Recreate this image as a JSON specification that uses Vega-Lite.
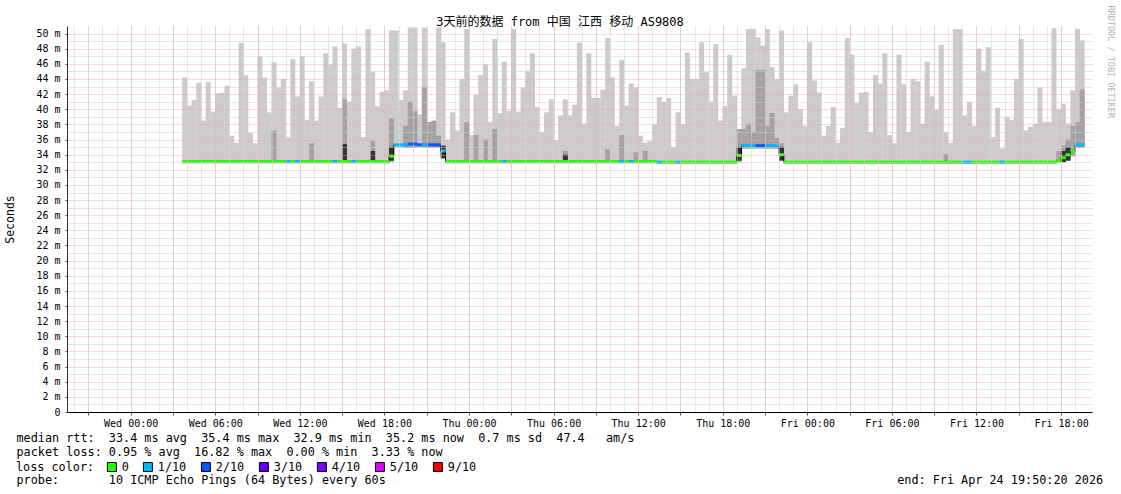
{
  "$schema": "https://vega.github.io/schema/vega-lite/v6.json",
  "width": 1025,
  "height": 386,
  "autosize": "none",
  "padding": {"left": 67, "top": 26, "right": 29, "bottom": 82},
  "background": "#ffffff",
  "title": {"text": "3天前的数据 from 中国 江西 移动 AS9808", "font": "DejaVu Sans Mono, Noto Sans CJK SC", "fontSize": 12, "fontWeight": "normal", "color": "#000000", "anchor": "middle", "dx": -19.5, "dy": 34, "offset": 1, "baseline": "alphabetic"},
  "config": {"view": {"stroke": null}, "font": "DejaVu Sans Mono"},
  "datasets": {
    "main": [
      {"t":"2026-04-22T03:50Z","lo":32.8,"hi":44.2,"med":33.1,"loss":"0"},
      {"t":"2026-04-22T04:10Z","lo":32.8,"hi":40.5,"med":33.1,"loss":"0"},
      {"t":"2026-04-22T04:30Z","lo":32.8,"hi":41.2,"med":33.1,"loss":"0"},
      {"t":"2026-04-22T04:50Z","lo":32.8,"hi":43.5,"med":33.1,"loss":"0"},
      {"t":"2026-04-22T05:10Z","lo":32.8,"hi":38.5,"med":33.1,"loss":"0"},
      {"t":"2026-04-22T05:30Z","lo":32.8,"hi":43.6,"med":33.1,"loss":"0"},
      {"t":"2026-04-22T05:50Z","lo":32.8,"hi":39.7,"med":33.1,"loss":"0"},
      {"t":"2026-04-22T06:10Z","lo":32.8,"hi":42.1,"med":33.1,"loss":"0"},
      {"t":"2026-04-22T06:30Z","lo":32.8,"hi":42.2,"med":33.1,"loss":"0"},
      {"t":"2026-04-22T06:50Z","lo":32.8,"hi":43.1,"med":33.1,"loss":"0"},
      {"t":"2026-04-22T07:10Z","lo":32.8,"hi":36.5,"med":33.1,"loss":"0"},
      {"t":"2026-04-22T07:30Z","lo":32.8,"hi":35.6,"med":33.1,"loss":"0"},
      {"t":"2026-04-22T07:50Z","lo":32.8,"hi":48.8,"med":33.1,"loss":"0"},
      {"t":"2026-04-22T08:10Z","lo":32.8,"hi":44.5,"med":33.1,"loss":"0"},
      {"t":"2026-04-22T08:30Z","lo":32.8,"hi":36.9,"med":33.1,"loss":"0"},
      {"t":"2026-04-22T08:50Z","lo":32.8,"hi":35.5,"med":33.1,"loss":"0"},
      {"t":"2026-04-22T09:10Z","lo":32.8,"hi":47.0,"med":33.1,"loss":"0"},
      {"t":"2026-04-22T09:30Z","lo":32.8,"hi":44.2,"med":33.1,"loss":"0"},
      {"t":"2026-04-22T09:50Z","lo":32.8,"hi":39.6,"med":33.1,"loss":"0"},
      {"t":"2026-04-22T10:10Z","lo":32.8,"hi":46.2,"med":33.1,"loss":"0"},
      {"t":"2026-04-22T10:30Z","lo":32.8,"hi":42.9,"med":33.1,"loss":"0"},
      {"t":"2026-04-22T10:50Z","lo":32.8,"hi":44.0,"med":33.1,"loss":"0"},
      {"t":"2026-04-22T11:10Z","lo":32.8,"hi":36.3,"med":33.1,"loss":"1/10"},
      {"t":"2026-04-22T11:30Z","lo":32.8,"hi":46.6,"med":33.1,"loss":"0"},
      {"t":"2026-04-22T11:50Z","lo":32.8,"hi":41.7,"med":33.1,"loss":"1/10"},
      {"t":"2026-04-22T12:10Z","lo":32.8,"hi":47.0,"med":33.1,"loss":"0"},
      {"t":"2026-04-22T12:30Z","lo":32.8,"hi":38.6,"med":33.1,"loss":"0"},
      {"t":"2026-04-22T12:50Z","lo":32.8,"hi":43.7,"med":33.1,"loss":"0"},
      {"t":"2026-04-22T13:10Z","lo":32.8,"hi":38.5,"med":33.1,"loss":"0"},
      {"t":"2026-04-22T13:30Z","lo":32.8,"hi":41.7,"med":33.1,"loss":"0"},
      {"t":"2026-04-22T13:50Z","lo":32.8,"hi":47.4,"med":33.1,"loss":"0"},
      {"t":"2026-04-22T14:10Z","lo":32.8,"hi":45.9,"med":33.1,"loss":"0"},
      {"t":"2026-04-22T14:30Z","lo":32.8,"hi":48.3,"med":33.1,"loss":"1/10"},
      {"t":"2026-04-22T14:50Z","lo":32.8,"hi":40.2,"med":33.1,"loss":"0"},
      {"t":"2026-04-22T15:10Z","lo":32.8,"hi":48.7,"med":33.1,"loss":"0"},
      {"t":"2026-04-22T15:30Z","lo":32.8,"hi":41.0,"med":33.1,"loss":"0"},
      {"t":"2026-04-22T15:50Z","lo":32.8,"hi":48.0,"med":33.1,"loss":"1/10"},
      {"t":"2026-04-22T16:10Z","lo":32.8,"hi":48.3,"med":33.1,"loss":"0"},
      {"t":"2026-04-22T16:30Z","lo":32.8,"hi":36.3,"med":33.1,"loss":"0"},
      {"t":"2026-04-22T16:50Z","lo":32.8,"hi":50.6,"med":33.1,"loss":"0"},
      {"t":"2026-04-22T17:10Z","lo":32.8,"hi":45.0,"med":33.1,"loss":"0"},
      {"t":"2026-04-22T17:30Z","lo":32.8,"hi":40.4,"med":33.1,"loss":"0"},
      {"t":"2026-04-22T17:50Z","lo":32.8,"hi":42.3,"med":33.1,"loss":"0"},
      {"t":"2026-04-22T18:10Z","lo":32.8,"hi":42.5,"med":33.1,"loss":"0"},
      {"t":"2026-04-22T18:30Z","lo":32.9,"hi":50.4,"med":33.8,"loss":"0"},
      {"t":"2026-04-22T18:50Z","lo":34.9,"hi":50.4,"med":35.3,"loss":"1/10"},
      {"t":"2026-04-22T19:10Z","lo":34.9,"hi":41.2,"med":35.3,"loss":"1/10"},
      {"t":"2026-04-22T19:30Z","lo":34.9,"hi":42.5,"med":35.3,"loss":"1/10"},
      {"t":"2026-04-22T19:50Z","lo":34.9,"hi":50.8,"med":35.4,"loss":"2/10"},
      {"t":"2026-04-22T20:10Z","lo":34.9,"hi":50.8,"med":35.4,"loss":"2/10"},
      {"t":"2026-04-22T20:30Z","lo":34.9,"hi":39.3,"med":35.3,"loss":"2/10"},
      {"t":"2026-04-22T20:50Z","lo":34.9,"hi":50.8,"med":35.3,"loss":"1/10"},
      {"t":"2026-04-22T21:10Z","lo":34.9,"hi":38.3,"med":35.3,"loss":"2/10"},
      {"t":"2026-04-22T21:30Z","lo":34.9,"hi":38.3,"med":35.3,"loss":"2/10"},
      {"t":"2026-04-22T21:50Z","lo":34.9,"hi":50.8,"med":35.3,"loss":"2/10"},
      {"t":"2026-04-22T22:10Z","lo":33.5,"hi":48.85,"med":34.5,"loss":"1/10"},
      {"t":"2026-04-22T22:30Z","lo":32.8,"hi":36.0,"med":33.1,"loss":"0"},
      {"t":"2026-04-22T22:50Z","lo":32.8,"hi":39.6,"med":33.1,"loss":"0"},
      {"t":"2026-04-22T23:10Z","lo":32.8,"hi":37.2,"med":33.1,"loss":"0"},
      {"t":"2026-04-22T23:30Z","lo":32.8,"hi":44.0,"med":33.1,"loss":"0"},
      {"t":"2026-04-22T23:50Z","lo":32.8,"hi":50.6,"med":33.1,"loss":"0"},
      {"t":"2026-04-23T00:10Z","lo":32.8,"hi":36.6,"med":33.1,"loss":"0"},
      {"t":"2026-04-23T00:30Z","lo":32.8,"hi":41.9,"med":33.1,"loss":"0"},
      {"t":"2026-04-23T00:50Z","lo":32.8,"hi":44.5,"med":33.1,"loss":"0"},
      {"t":"2026-04-23T01:10Z","lo":32.8,"hi":45.9,"med":33.1,"loss":"0"},
      {"t":"2026-04-23T01:30Z","lo":32.8,"hi":38.3,"med":33.1,"loss":"0"},
      {"t":"2026-04-23T01:50Z","lo":32.8,"hi":49.3,"med":33.1,"loss":"0"},
      {"t":"2026-04-23T02:10Z","lo":32.8,"hi":39.5,"med":33.1,"loss":"0"},
      {"t":"2026-04-23T02:30Z","lo":32.8,"hi":46.3,"med":33.1,"loss":"1/10"},
      {"t":"2026-04-23T02:50Z","lo":32.8,"hi":39.8,"med":33.1,"loss":"0"},
      {"t":"2026-04-23T03:10Z","lo":32.8,"hi":50.6,"med":33.1,"loss":"0"},
      {"t":"2026-04-23T03:30Z","lo":32.8,"hi":39.7,"med":33.1,"loss":"0"},
      {"t":"2026-04-23T03:50Z","lo":32.8,"hi":42.9,"med":33.1,"loss":"0"},
      {"t":"2026-04-23T04:10Z","lo":32.8,"hi":45.1,"med":33.1,"loss":"0"},
      {"t":"2026-04-23T04:30Z","lo":32.8,"hi":47.4,"med":33.1,"loss":"0"},
      {"t":"2026-04-23T04:50Z","lo":32.8,"hi":40.3,"med":33.1,"loss":"0"},
      {"t":"2026-04-23T05:10Z","lo":32.8,"hi":37.0,"med":33.1,"loss":"0"},
      {"t":"2026-04-23T05:30Z","lo":32.8,"hi":39.6,"med":33.1,"loss":"0"},
      {"t":"2026-04-23T05:50Z","lo":32.8,"hi":41.3,"med":33.1,"loss":"0"},
      {"t":"2026-04-23T06:10Z","lo":32.8,"hi":35.9,"med":33.1,"loss":"0"},
      {"t":"2026-04-23T06:30Z","lo":32.8,"hi":39.2,"med":33.1,"loss":"0"},
      {"t":"2026-04-23T06:50Z","lo":32.8,"hi":41.3,"med":33.1,"loss":"0"},
      {"t":"2026-04-23T07:10Z","lo":32.8,"hi":39.2,"med":33.1,"loss":"0"},
      {"t":"2026-04-23T07:30Z","lo":32.8,"hi":40.6,"med":33.1,"loss":"0"},
      {"t":"2026-04-23T07:50Z","lo":32.8,"hi":48.8,"med":33.1,"loss":"0"},
      {"t":"2026-04-23T08:10Z","lo":32.8,"hi":38.1,"med":33.1,"loss":"0"},
      {"t":"2026-04-23T08:30Z","lo":32.8,"hi":47.4,"med":33.1,"loss":"0"},
      {"t":"2026-04-23T08:50Z","lo":32.8,"hi":41.5,"med":33.1,"loss":"0"},
      {"t":"2026-04-23T09:10Z","lo":32.8,"hi":41.5,"med":33.1,"loss":"0"},
      {"t":"2026-04-23T09:30Z","lo":32.8,"hi":42.6,"med":33.1,"loss":"0"},
      {"t":"2026-04-23T09:50Z","lo":32.8,"hi":49.4,"med":33.1,"loss":"0"},
      {"t":"2026-04-23T10:10Z","lo":32.8,"hi":44.2,"med":33.1,"loss":"0"},
      {"t":"2026-04-23T10:30Z","lo":32.8,"hi":37.8,"med":33.1,"loss":"0"},
      {"t":"2026-04-23T10:50Z","lo":32.8,"hi":46.5,"med":33.1,"loss":"1/10"},
      {"t":"2026-04-23T11:10Z","lo":32.8,"hi":40.5,"med":33.1,"loss":"0"},
      {"t":"2026-04-23T11:30Z","lo":32.8,"hi":43.4,"med":33.1,"loss":"1/10"},
      {"t":"2026-04-23T11:50Z","lo":32.8,"hi":42.9,"med":33.1,"loss":"0"},
      {"t":"2026-04-23T12:10Z","lo":32.8,"hi":36.5,"med":33.1,"loss":"0"},
      {"t":"2026-04-23T12:30Z","lo":32.8,"hi":35.6,"med":33.1,"loss":"0"},
      {"t":"2026-04-23T12:50Z","lo":32.8,"hi":35.8,"med":33.1,"loss":"0"},
      {"t":"2026-04-23T13:10Z","lo":32.8,"hi":38.0,"med":33.1,"loss":"0"},
      {"t":"2026-04-23T13:30Z","lo":32.8,"hi":41.6,"med":33.0,"loss":"1/10"},
      {"t":"2026-04-23T13:50Z","lo":32.8,"hi":41.0,"med":33.0,"loss":"0"},
      {"t":"2026-04-23T14:10Z","lo":32.8,"hi":41.5,"med":33.0,"loss":"0"},
      {"t":"2026-04-23T14:30Z","lo":32.8,"hi":35.0,"med":33.0,"loss":"0"},
      {"t":"2026-04-23T14:50Z","lo":32.8,"hi":39.6,"med":33.0,"loss":"1/10"},
      {"t":"2026-04-23T15:10Z","lo":32.8,"hi":38.0,"med":33.0,"loss":"0"},
      {"t":"2026-04-23T15:30Z","lo":32.8,"hi":47.5,"med":33.0,"loss":"0"},
      {"t":"2026-04-23T15:50Z","lo":32.8,"hi":44.0,"med":33.0,"loss":"0"},
      {"t":"2026-04-23T16:10Z","lo":32.8,"hi":44.0,"med":33.0,"loss":"0"},
      {"t":"2026-04-23T16:30Z","lo":32.8,"hi":48.85,"med":33.0,"loss":"0"},
      {"t":"2026-04-23T16:50Z","lo":32.8,"hi":44.9,"med":33.0,"loss":"0"},
      {"t":"2026-04-23T17:10Z","lo":32.8,"hi":41.0,"med":33.0,"loss":"0"},
      {"t":"2026-04-23T17:30Z","lo":32.8,"hi":48.6,"med":33.0,"loss":"0"},
      {"t":"2026-04-23T17:50Z","lo":32.8,"hi":38.5,"med":33.0,"loss":"0"},
      {"t":"2026-04-23T18:10Z","lo":32.8,"hi":40.4,"med":33.0,"loss":"0"},
      {"t":"2026-04-23T18:30Z","lo":32.8,"hi":47.2,"med":33.0,"loss":"0"},
      {"t":"2026-04-23T18:50Z","lo":32.8,"hi":41.8,"med":33.0,"loss":"0"},
      {"t":"2026-04-23T19:10Z","lo":32.9,"hi":36.8,"med":33.9,"loss":"0"},
      {"t":"2026-04-23T19:30Z","lo":34.8,"hi":45.4,"med":35.2,"loss":"1/10"},
      {"t":"2026-04-23T19:50Z","lo":34.8,"hi":50.6,"med":35.2,"loss":"1/10"},
      {"t":"2026-04-23T20:10Z","lo":34.8,"hi":50.6,"med":35.2,"loss":"1/10"},
      {"t":"2026-04-23T20:30Z","lo":34.8,"hi":49.5,"med":35.2,"loss":"2/10"},
      {"t":"2026-04-23T20:50Z","lo":34.8,"hi":48.4,"med":35.2,"loss":"2/10"},
      {"t":"2026-04-23T21:10Z","lo":34.8,"hi":50.6,"med":35.2,"loss":"1/10"},
      {"t":"2026-04-23T21:30Z","lo":34.8,"hi":45.6,"med":35.2,"loss":"1/10"},
      {"t":"2026-04-23T21:50Z","lo":34.8,"hi":44.0,"med":35.1,"loss":"1/10"},
      {"t":"2026-04-23T22:10Z","lo":33.3,"hi":50.4,"med":34.0,"loss":"0"},
      {"t":"2026-04-23T22:30Z","lo":32.8,"hi":39.6,"med":33.0,"loss":"0"},
      {"t":"2026-04-23T22:50Z","lo":32.8,"hi":41.8,"med":33.0,"loss":"0"},
      {"t":"2026-04-23T23:10Z","lo":32.8,"hi":43.3,"med":33.0,"loss":"0"},
      {"t":"2026-04-23T23:30Z","lo":32.8,"hi":40.0,"med":33.0,"loss":"0"},
      {"t":"2026-04-23T23:50Z","lo":32.8,"hi":37.8,"med":33.0,"loss":"0"},
      {"t":"2026-04-24T00:10Z","lo":32.8,"hi":48.85,"med":33.0,"loss":"0"},
      {"t":"2026-04-24T00:30Z","lo":32.8,"hi":43.8,"med":33.0,"loss":"0"},
      {"t":"2026-04-24T00:50Z","lo":32.8,"hi":42.2,"med":33.0,"loss":"0"},
      {"t":"2026-04-24T01:10Z","lo":32.8,"hi":36.5,"med":33.0,"loss":"0"},
      {"t":"2026-04-24T01:30Z","lo":32.8,"hi":37.8,"med":33.0,"loss":"0"},
      {"t":"2026-04-24T01:50Z","lo":32.8,"hi":40.3,"med":33.0,"loss":"0"},
      {"t":"2026-04-24T02:10Z","lo":32.8,"hi":35.6,"med":33.0,"loss":"0"},
      {"t":"2026-04-24T02:30Z","lo":32.8,"hi":37.5,"med":33.0,"loss":"0"},
      {"t":"2026-04-24T02:50Z","lo":32.8,"hi":49.4,"med":33.0,"loss":"0"},
      {"t":"2026-04-24T03:10Z","lo":32.8,"hi":47.2,"med":33.0,"loss":"0"},
      {"t":"2026-04-24T03:30Z","lo":32.8,"hi":40.9,"med":33.0,"loss":"0"},
      {"t":"2026-04-24T03:50Z","lo":32.8,"hi":42.2,"med":33.0,"loss":"0"},
      {"t":"2026-04-24T04:10Z","lo":32.8,"hi":42.3,"med":33.0,"loss":"0"},
      {"t":"2026-04-24T04:30Z","lo":32.8,"hi":37.0,"med":33.0,"loss":"0"},
      {"t":"2026-04-24T04:50Z","lo":32.8,"hi":44.5,"med":33.0,"loss":"0"},
      {"t":"2026-04-24T05:10Z","lo":32.8,"hi":43.4,"med":33.0,"loss":"0"},
      {"t":"2026-04-24T05:30Z","lo":32.8,"hi":47.4,"med":33.0,"loss":"0"},
      {"t":"2026-04-24T05:50Z","lo":32.8,"hi":36.6,"med":33.0,"loss":"0"},
      {"t":"2026-04-24T06:10Z","lo":32.8,"hi":35.5,"med":33.0,"loss":"0"},
      {"t":"2026-04-24T06:30Z","lo":32.8,"hi":47.2,"med":33.0,"loss":"0"},
      {"t":"2026-04-24T06:50Z","lo":32.8,"hi":43.3,"med":33.0,"loss":"0"},
      {"t":"2026-04-24T07:10Z","lo":32.8,"hi":37.0,"med":33.0,"loss":"0"},
      {"t":"2026-04-24T07:30Z","lo":32.8,"hi":44.0,"med":33.0,"loss":"0"},
      {"t":"2026-04-24T07:50Z","lo":32.8,"hi":43.7,"med":33.0,"loss":"0"},
      {"t":"2026-04-24T08:10Z","lo":32.8,"hi":38.1,"med":33.0,"loss":"0"},
      {"t":"2026-04-24T08:30Z","lo":32.8,"hi":46.3,"med":33.0,"loss":"0"},
      {"t":"2026-04-24T08:50Z","lo":32.8,"hi":41.7,"med":33.0,"loss":"0"},
      {"t":"2026-04-24T09:10Z","lo":32.8,"hi":39.9,"med":33.0,"loss":"0"},
      {"t":"2026-04-24T09:30Z","lo":32.8,"hi":48.5,"med":33.0,"loss":"0"},
      {"t":"2026-04-24T09:50Z","lo":32.8,"hi":37.0,"med":33.0,"loss":"0"},
      {"t":"2026-04-24T10:10Z","lo":32.8,"hi":35.6,"med":33.0,"loss":"0"},
      {"t":"2026-04-24T10:30Z","lo":32.8,"hi":50.6,"med":33.0,"loss":"0"},
      {"t":"2026-04-24T10:50Z","lo":32.8,"hi":50.6,"med":33.0,"loss":"0"},
      {"t":"2026-04-24T11:10Z","lo":32.8,"hi":39.2,"med":33.0,"loss":"1/10"},
      {"t":"2026-04-24T11:30Z","lo":32.8,"hi":41.0,"med":33.0,"loss":"1/10"},
      {"t":"2026-04-24T11:50Z","lo":32.8,"hi":37.8,"med":33.0,"loss":"0"},
      {"t":"2026-04-24T12:10Z","lo":32.8,"hi":48.0,"med":33.0,"loss":"0"},
      {"t":"2026-04-24T12:30Z","lo":32.8,"hi":45.1,"med":33.0,"loss":"0"},
      {"t":"2026-04-24T12:50Z","lo":32.8,"hi":48.2,"med":33.0,"loss":"0"},
      {"t":"2026-04-24T13:10Z","lo":32.8,"hi":36.3,"med":33.0,"loss":"0"},
      {"t":"2026-04-24T13:30Z","lo":32.8,"hi":40.2,"med":33.0,"loss":"0"},
      {"t":"2026-04-24T13:50Z","lo":32.8,"hi":34.8,"med":33.0,"loss":"1/10"},
      {"t":"2026-04-24T14:10Z","lo":32.8,"hi":39.0,"med":33.0,"loss":"0"},
      {"t":"2026-04-24T14:30Z","lo":32.8,"hi":38.6,"med":33.0,"loss":"0"},
      {"t":"2026-04-24T14:50Z","lo":32.8,"hi":44.0,"med":33.0,"loss":"0"},
      {"t":"2026-04-24T15:10Z","lo":32.8,"hi":49.3,"med":33.0,"loss":"0"},
      {"t":"2026-04-24T15:30Z","lo":32.8,"hi":37.2,"med":33.0,"loss":"0"},
      {"t":"2026-04-24T15:50Z","lo":32.8,"hi":37.7,"med":33.0,"loss":"0"},
      {"t":"2026-04-24T16:10Z","lo":32.8,"hi":38.1,"med":33.0,"loss":"0"},
      {"t":"2026-04-24T16:30Z","lo":32.8,"hi":42.9,"med":33.0,"loss":"0"},
      {"t":"2026-04-24T16:50Z","lo":32.8,"hi":38.3,"med":33.0,"loss":"0"},
      {"t":"2026-04-24T17:10Z","lo":32.8,"hi":38.3,"med":33.0,"loss":"0"},
      {"t":"2026-04-24T17:30Z","lo":32.8,"hi":50.7,"med":33.0,"loss":"0"},
      {"t":"2026-04-24T17:50Z","lo":32.9,"hi":40.0,"med":33.2,"loss":"0"},
      {"t":"2026-04-24T18:10Z","lo":33.0,"hi":40.7,"med":33.6,"loss":"0"},
      {"t":"2026-04-24T18:30Z","lo":33.4,"hi":38.1,"med":34.0,"loss":"0"},
      {"t":"2026-04-24T18:50Z","lo":33.8,"hi":42.5,"med":34.5,"loss":"0"},
      {"t":"2026-04-24T19:10Z","lo":34.9,"hi":50.6,"med":35.3,"loss":"1/10"},
      {"t":"2026-04-24T19:30Z","lo":34.9,"hi":49.1,"med":35.3,"loss":"1/10"}
    ],
    "dark": [
      {"t":"2026-04-22T10:10Z","lo":33.0,"mid":37.2,"shade":"b"},
      {"t":"2026-04-22T12:50Z","lo":33.0,"mid":35.5,"shade":"b"},
      {"t":"2026-04-22T15:10Z","lo":33.0,"mid":41.3,"shade":"b"},
      {"t":"2026-04-22T17:10Z","lo":33.0,"mid":35.8,"shade":"b"},
      {"t":"2026-04-22T18:30Z","lo":33.2,"mid":38.8,"shade":"b"},
      {"t":"2026-04-22T19:30Z","lo":34.9,"mid":37.8,"shade":"b"},
      {"t":"2026-04-22T19:50Z","lo":34.9,"mid":41.0,"shade":"b"},
      {"t":"2026-04-22T20:10Z","lo":34.9,"mid":39.8,"shade":"b"},
      {"t":"2026-04-22T20:50Z","lo":34.9,"mid":43.0,"shade":"b"},
      {"t":"2026-04-22T21:10Z","lo":34.9,"mid":38.3,"shade":"b"},
      {"t":"2026-04-22T21:30Z","lo":34.9,"mid":38.5,"shade":"b"},
      {"t":"2026-04-22T21:50Z","lo":34.9,"mid":36.5,"shade":"b"},
      {"t":"2026-04-22T23:50Z","lo":33.0,"mid":38.3,"shade":"b"},
      {"t":"2026-04-23T00:30Z","lo":33.0,"mid":36.6,"shade":"b"},
      {"t":"2026-04-23T01:10Z","lo":33.0,"mid":36.0,"shade":"b"},
      {"t":"2026-04-23T01:50Z","lo":33.0,"mid":37.4,"shade":"b"},
      {"t":"2026-04-23T06:50Z","lo":33.0,"mid":34.5,"shade":"b"},
      {"t":"2026-04-23T09:50Z","lo":33.0,"mid":34.7,"shade":"b"},
      {"t":"2026-04-23T10:50Z","lo":33.0,"mid":36.6,"shade":"b"},
      {"t":"2026-04-23T11:50Z","lo":33.0,"mid":34.3,"shade":"b"},
      {"t":"2026-04-23T12:30Z","lo":33.0,"mid":34.5,"shade":"b"},
      {"t":"2026-04-23T19:10Z","lo":33.2,"mid":37.4,"shade":"b"},
      {"t":"2026-04-23T19:30Z","lo":34.8,"mid":37.4,"shade":"b"},
      {"t":"2026-04-23T19:50Z","lo":34.8,"mid":38.0,"shade":"b"},
      {"t":"2026-04-23T20:10Z","lo":34.8,"mid":37.0,"shade":"b"},
      {"t":"2026-04-23T20:30Z","lo":34.8,"mid":45.2,"shade":"b"},
      {"t":"2026-04-23T20:50Z","lo":34.8,"mid":45.2,"shade":"b"},
      {"t":"2026-04-23T21:10Z","lo":34.8,"mid":37.8,"shade":"b"},
      {"t":"2026-04-23T21:30Z","lo":34.8,"mid":39.5,"shade":"b"},
      {"t":"2026-04-23T21:50Z","lo":34.8,"mid":36.2,"shade":"b"},
      {"t":"2026-04-23T22:10Z","lo":33.5,"mid":35.5,"shade":"b"},
      {"t":"2026-04-24T09:50Z","lo":33.0,"mid":34.1,"shade":"b"},
      {"t":"2026-04-24T17:50Z","lo":33.0,"mid":34.5,"shade":"b"},
      {"t":"2026-04-24T18:10Z","lo":33.2,"mid":35.2,"shade":"b"},
      {"t":"2026-04-24T18:30Z","lo":33.5,"mid":36.0,"shade":"b"},
      {"t":"2026-04-24T18:50Z","lo":33.8,"mid":37.8,"shade":"b"},
      {"t":"2026-04-24T19:10Z","lo":34.9,"mid":38.3,"shade":"b"},
      {"t":"2026-04-24T19:30Z","lo":34.9,"mid":42.6,"shade":"b"},
      {"t":"2026-04-22T15:10Z","lo":33.0,"mid":35.4,"shade":"c"},
      {"t":"2026-04-22T17:10Z","lo":33.0,"mid":34.5,"shade":"c"},
      {"t":"2026-04-22T18:30Z","lo":33.2,"mid":35.0,"shade":"c"},
      {"t":"2026-04-22T22:10Z","lo":33.5,"mid":35.2,"shade":"c"},
      {"t":"2026-04-23T06:50Z","lo":33.0,"mid":34.0,"shade":"c"},
      {"t":"2026-04-23T19:10Z","lo":33.2,"mid":35.0,"shade":"c"},
      {"t":"2026-04-23T22:10Z","lo":33.2,"mid":35.0,"shade":"c"},
      {"t":"2026-04-24T18:10Z","lo":33.0,"mid":34.5,"shade":"c"},
      {"t":"2026-04-24T18:30Z","lo":33.2,"mid":35.0,"shade":"c"}
    ]
  },
  "layer": [
    {
      "data": {"name": "main"},
      "mark": {"type": "bar", "size": 5, "color": "#cbcbcb", "clip": true},
      "encoding": {
        "x": {"field": "t", "type": "temporal",
          "scale": {"type": "utc", "domain": [1776801020000, 1777060220000]},
          "axis": {"orient": "bottom", "values": [1776805200000, 1776816000000, 1776826800000, 1776837600000, 1776848400000, 1776859200000, 1776870000000, 1776880800000, 1776891600000, 1776902400000, 1776913200000, 1776924000000, 1776934800000, 1776945600000, 1776956400000, 1776967200000, 1776978000000, 1776988800000, 1776999600000, 1777010400000, 1777021200000, 1777032000000, 1777042800000, 1777053600000],
            "labelExpr": "utchours(datum.value) % 6 == 0 ? utcFormat(datum.value, '%a %H:%M') : ''",
            "grid": true, "gridColor": "#f4a6a6", "gridDash": [1, 1], "gridOpacity": 0.85, "gridWidth": 1,
            "domainColor": "#000000", "domainWidth": 1, "tickColor": "#555555", "tickSize": 3, "labelPadding": 3,
            "labelFont": "DejaVu Sans Mono", "labelFontSize": 10, "labelColor": "#000000", "labelFlush": false, "labelOverlap": false, "labelBound": false,
            "title": ["median rtt:\u00a0\u00a033.4 ms avg\u00a0\u00a035.4 ms max\u00a0\u00a032.9 ms min\u00a0\u00a035.2 ms now\u00a0\u00a00.7 ms sd\u00a0\u00a047.4\u00a0\u00a0\u00a0am/s", "packet loss: 0.95 % avg\u00a0\u00a016.82 % max\u00a0\u00a00.00 % min\u00a0\u00a03.33 % now"],
            "titleX": -51, "titleY": 20, "titleAlign": "left", "titleBaseline": "top", "titleAngle": 0,
            "titleFont": "DejaVu Sans Mono", "titleFontSize": 11.8, "titleFontWeight": "normal", "titleLineHeight": 14, "titleColor": "#000000",
            "zindex": 2}
        },
        "y": {"field": "lo", "type": "quantitative",
          "scale": {"domain": [0, 51], "nice": false, "zero": true},
          "axis": {"orient": "left", "values": [0, 2, 4, 6, 8, 10, 12, 14, 16, 18, 20, 22, 24, 26, 28, 30, 32, 34, 36, 38, 40, 42, 44, 46, 48, 50],
            "labelExpr": "datum.value == 0 ? '0' : datum.value + ' m'",
            "grid": true, "gridColor": "#f4a6a6", "gridDash": [1, 1], "gridOpacity": 0.85, "gridWidth": 1,
            "domainColor": "#333333", "domainWidth": 1, "tickColor": "#555555", "tickSize": 2, "labelPadding": 5,
            "labelFont": "DejaVu Sans Mono", "labelFontSize": 10, "labelColor": "#000000", "labelOverlap": false, "labelBound": false, "labelFlush": false,
            "title": "Seconds", "titleX": -57, "titleY": 193, "titleAngle": 270, "titleAlign": "center", "titleBaseline": "middle",
            "titleFont": "DejaVu Sans Mono", "titleFontSize": 11.5, "titleFontWeight": "normal", "titleColor": "#000000",
            "zindex": 2}
        },
        "y2": {"field": "hi"}
      }
    },
    {
      "data": {"name": "dark"},
      "mark": {"type": "bar", "size": 5, "clip": true},
      "encoding": {
        "x": {"field": "t", "type": "temporal",
          "axis": {"orient": "bottom", "values": [1776801600000, 1776805200000, 1776808800000, 1776812400000, 1776816000000, 1776819600000, 1776823200000, 1776826800000, 1776830400000, 1776834000000, 1776837600000, 1776841200000, 1776844800000, 1776848400000, 1776852000000, 1776855600000, 1776859200000, 1776862800000, 1776866400000, 1776870000000, 1776873600000, 1776877200000, 1776880800000, 1776884400000, 1776888000000, 1776891600000, 1776895200000, 1776898800000, 1776902400000, 1776906000000, 1776909600000, 1776913200000, 1776916800000, 1776920400000, 1776924000000, 1776927600000, 1776931200000, 1776934800000, 1776938400000, 1776942000000, 1776945600000, 1776949200000, 1776952800000, 1776956400000, 1776960000000, 1776963600000, 1776967200000, 1776970800000, 1776974400000, 1776978000000, 1776981600000, 1776985200000, 1776988800000, 1776992400000, 1776996000000, 1776999600000, 1777003200000, 1777006800000, 1777010400000, 1777014000000, 1777017600000, 1777021200000, 1777024800000, 1777028400000, 1777032000000, 1777035600000, 1777039200000, 1777042800000, 1777046400000, 1777050000000, 1777053600000, 1777057200000],
            "grid": true, "gridColor": "#cfcfcf", "gridDash": [1, 1], "gridOpacity": 1, "labels": false, "ticks": false, "domain": false,
            "title": "probe:\u00a0\u00a0\u00a0\u00a0\u00a0\u00a0\u00a010 ICMP Echo Pings (64 Bytes) every 60s\u00a0\u00a0\u00a0\u00a0\u00a0\u00a0\u00a0\u00a0\u00a0\u00a0\u00a0\u00a0\u00a0\u00a0\u00a0\u00a0\u00a0\u00a0\u00a0\u00a0\u00a0\u00a0\u00a0\u00a0\u00a0\u00a0\u00a0\u00a0\u00a0\u00a0\u00a0\u00a0\u00a0\u00a0\u00a0\u00a0\u00a0\u00a0\u00a0\u00a0\u00a0\u00a0\u00a0\u00a0\u00a0\u00a0\u00a0\u00a0\u00a0\u00a0\u00a0\u00a0\u00a0\u00a0\u00a0\u00a0\u00a0\u00a0\u00a0\u00a0\u00a0\u00a0\u00a0\u00a0\u00a0\u00a0\u00a0\u00a0\u00a0\u00a0\u00a0\u00a0end: Fri Apr 24 19:50:20 2026",
            "titleX": -51, "titleY": 62, "titleAlign": "left", "titleBaseline": "top", "titleAngle": 0,
            "titleFont": "DejaVu Sans Mono", "titleFontSize": 11.8, "titleFontWeight": "normal", "titleColor": "#000000",
            "zindex": 1}},
        "y": {"field": "lo", "type": "quantitative",
          "axis": {"orient": "left", "values": [1, 3, 5, 7, 9, 11, 13, 15, 17, 19, 21, 23, 25, 27, 29, 31, 33, 35, 37, 39, 41, 43, 45, 47, 49], "grid": true, "gridColor": "#cfcfcf", "gridDash": [1, 1], "gridOpacity": 1, "labels": false, "ticks": false, "domain": false, "title": null, "zindex": 1}},
        "y2": {"field": "mid"},
        "color": {"field": "shade", "type": "nominal", "scale": {"domain": ["b", "c"], "range": ["#a2a2a2", "#333333"]}, "legend": null}
      }
    },
    {
      "data": {"name": "main"},
      "mark": {"type": "line", "interpolate": "step", "color": "#000000", "strokeWidth": 1, "clip": true},
      "encoding": {
        "x": {"field": "t", "type": "temporal", "axis": null},
        "y": {"field": "med", "type": "quantitative",
          "axis": {"orient": "right", "labels": false, "ticks": false, "domain": false, "grid": false,
            "title": "RRDTOOL / TOBI OETIKER", "titleAngle": 90, "titleX": 18, "titleY": -21, "titleAlign": "left", "titleBaseline": "middle",
            "titleColor": "#b4b4b4", "titleFontSize": 8.5, "titleFont": "DejaVu Sans Mono", "titleFontWeight": "normal"}}
      }
    },
    {
      "data": {"name": "main"},
      "mark": {"type": "tick", "orient": "horizontal", "size": 5, "thickness": 3, "opacity": 1, "clip": true},
      "encoding": {
        "x": {"field": "t", "type": "temporal", "axis": null},
        "y": {"field": "med", "type": "quantitative", "axis": null},
        "color": {"field": "loss", "type": "nominal",
          "scale": {"domain": ["0", "1/10", "2/10", "3/10", "4/10", "5/10", "9/10"], "range": ["#26ff00", "#00b8ff", "#0059ff", "#5e00ff", "#7e00ff", "#dd00ff", "#ff0000"]},
          "legend": {"orient": "none", "legendX": -51, "legendY": 435, "direction": "horizontal", "title": "loss color:", "titleOrient": "left", "titlePadding": 11,
            "titleFont": "DejaVu Sans Mono", "titleFontSize": 11.8, "titleFontWeight": "normal", "titleColor": "#000000",
            "labelFont": "DejaVu Sans Mono", "labelFontSize": 11.8, "labelColor": "#000000", "labelOffset": 4,
            "symbolType": "square", "symbolSize": 81, "symbolStrokeColor": "#000000", "symbolStrokeWidth": 1, "symbolOpacity": 1, "columnPadding": 12, "padding": 0}}
      }
    }
  ],
  "resolve": {"axis": {"x": "independent", "y": "independent"}, "scale": {"color": "independent"}}
}
